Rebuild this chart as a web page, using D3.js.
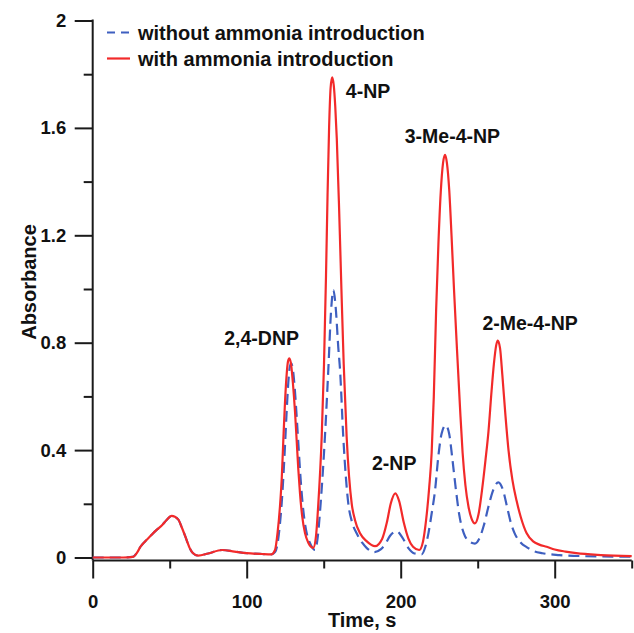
<!DOCTYPE html>
<html>
<head>
<meta charset="utf-8">
<script src="https://cdn.jsdelivr.net/npm/d3@7.9.0/dist/d3.min.js"></script>
<style>
  body { margin: 0; background: #fff; }
  svg text { font-family: "Liberation Sans", Arial, sans-serif; font-weight: bold; fill: #111; }
</style>
</head>
<body>
<div id="chart"></div>
<script>
// time (s), absorbance
const withoutAmmonia = [
  [0, 0], [10, 0], [20, 0], [26, 0.002], [29, 0.02], [31, 0.04], [34, 0.06], [37, 0.077],
  [41, 0.1], [45, 0.12], [48, 0.14], [51.3, 0.155], [55.5, 0.142], [58, 0.11], [61, 0.065],
  [63, 0.035], [65, 0.017], [68.5, 0.007], [75, 0.015], [84, 0.028], [92, 0.022], [100, 0.016],
  [110, 0.013], [116, 0.012], [118.4, 0.02], [120, 0.05], [121.5, 0.12], [122.7, 0.2],
  [123.8, 0.3], [124.9, 0.42], [126, 0.55], [127, 0.65], [128, 0.71], [128.9, 0.723],
  [130, 0.7], [131.2, 0.63], [132.5, 0.52], [133.7, 0.41], [134.8, 0.31], [136, 0.22],
  [137.5, 0.14], [139.2, 0.085], [141, 0.055], [142.8, 0.035], [144.4, 0.028], [146, 0.07],
  [148, 0.2], [150.8, 0.45], [153, 0.7], [154.8, 0.92], [156.3, 0.996], [157.8, 0.93],
  [159.5, 0.78], [160.6, 0.7], [162.7, 0.45], [166, 0.2], [168.5, 0.13], [171.4, 0.09],
  [175, 0.055], [178, 0.035], [183, 0.02], [187, 0.03], [190, 0.05], [193, 0.08],
  [197.4, 0.098], [201, 0.075], [205, 0.035], [209, 0.015], [213.6, 0.012], [216, 0.04],
  [218, 0.09], [220, 0.16], [222.3, 0.25], [224.5, 0.38], [226.5, 0.46], [229.2, 0.493],
  [231.5, 0.46], [233.5, 0.37], [235.9, 0.25], [238, 0.16], [241, 0.09], [244, 0.062],
  [248.2, 0.052], [251, 0.07], [254, 0.12], [257, 0.19], [260, 0.25], [263.4, 0.28],
  [266.5, 0.25], [269, 0.19], [271.5, 0.13], [274, 0.09], [278, 0.055], [282, 0.038],
  [286, 0.025], [292, 0.016], [303, 0.009], [320, 0.005], [350, 0.003]
];

const withAmmonia = [
  [0, 0], [10, 0], [20, 0], [26, 0.002], [29, 0.02], [31, 0.04], [34, 0.06], [37, 0.077],
  [41, 0.1], [45, 0.12], [48, 0.14], [51.3, 0.155], [55.5, 0.142], [58, 0.11], [61, 0.065],
  [63, 0.035], [65, 0.017], [68.5, 0.007], [75, 0.015], [84, 0.028], [92, 0.022], [100, 0.016],
  [110, 0.013], [116, 0.012], [118.4, 0.028], [120, 0.09], [121.6, 0.19], [122.8, 0.3],
  [123.8, 0.44], [124.8, 0.57], [125.8, 0.67], [126.8, 0.73], [127.7, 0.742], [128.8, 0.72],
  [130, 0.65], [131.4, 0.54], [132.5, 0.43], [133.5, 0.33], [134.6, 0.24], [136, 0.155],
  [137.9, 0.09], [140, 0.055], [143.2, 0.036], [145, 0.08], [146.5, 0.2], [148.7, 0.45],
  [150.2, 0.72], [151.5, 1.05], [152.5, 1.35], [153.5, 1.6], [154.5, 1.75], [155.5, 1.788],
  [156.5, 1.76], [157.5, 1.68], [158.5, 1.56], [160, 1.3], [161.5, 1.0], [163, 0.72],
  [164.9, 0.45], [166.5, 0.3], [168.2, 0.2], [170.3, 0.14], [173.6, 0.09], [178, 0.06],
  [183.3, 0.042], [188, 0.07], [191, 0.13], [193.5, 0.2], [196.5, 0.239], [199, 0.21],
  [202, 0.13], [205, 0.07], [208, 0.04], [212, 0.028], [214.5, 0.06], [216.5, 0.14],
  [218.5, 0.26], [220.1, 0.39], [221.5, 0.6], [223, 0.92], [224.5, 1.17], [226, 1.36],
  [227.5, 1.47], [228.8, 1.5], [230, 1.47], [231.5, 1.37], [233, 1.2], [234.6, 1.0],
  [236.5, 0.78], [238.5, 0.56], [240.2, 0.39], [242, 0.27], [244, 0.19], [246, 0.145],
  [248.2, 0.127], [250.5, 0.16], [253, 0.26], [255, 0.36], [257, 0.47], [259, 0.62],
  [260.5, 0.72], [262, 0.79], [263, 0.808], [264.5, 0.78], [266, 0.68], [268, 0.53],
  [270, 0.4], [272.5, 0.29], [275.3, 0.21], [278, 0.15], [281.8, 0.09], [286, 0.06],
  [290, 0.048], [294.8, 0.04], [300, 0.03], [307, 0.022], [314, 0.016], [330, 0.009],
  [350, 0.005]
];

const seriesNames = ['without ammonia introduction', 'with ammonia introduction'];
const xTicks = [0, 100, 200, 300];
const xMinorTicks = [50, 150, 250, 350];
const yTicks = [0, 0.4, 0.8, 1.2, 1.6, 2];
const yMinorTicks = [0.2, 0.6, 1.0, 1.4, 1.8];
const peakNames = ['2,4-DNP', '4-NP', '3-Me-4-NP', '2-NP', '2-Me-4-NP'];

const width = 634;
const height = 633;
const plot = { left: 92.7, right: 631.7, top: 20.5, bottom: 557.5 };
const axisY = 560.5; // x axis sits a little below zero

const svg = d3.select('#chart')
  .append('svg')
  .attr('width', width)
  .attr('height', height);

const x = d3.scaleLinear().domain([0, 350]).range([plot.left, plot.right]);
const y = d3.scaleLinear().domain([0, 2]).range([plot.bottom, plot.top]);

const axisColor = '#1a1a1a';

function styleAxis(g) {
  g.select('.domain').remove();
  g.selectAll('line').attr('stroke', axisColor).attr('stroke-width', 2);
  g.selectAll('text').attr('fill', '#111');
}

// x axis
svg.append('g')
  .attr('transform', `translate(0, ${axisY})`)
  .call(d3.axisBottom(x).tickValues(xTicks).tickSize(18).tickPadding(16).tickFormat(String))
  .call(styleAxis)
  .selectAll('text')
  .style('font-size', '18.5px');

svg.append('g')
  .attr('transform', `translate(0, ${axisY})`)
  .call(d3.axisBottom(x).tickValues(xMinorTicks).tickSize(8).tickFormat(''))
  .call(styleAxis);

// y axis
svg.append('g')
  .attr('transform', `translate(${plot.left}, 0)`)
  .call(d3.axisLeft(y).tickValues(yTicks).tickSize(18).tickPadding(8.5).tickFormat(String))
  .call(styleAxis)
  .selectAll('text')
  .style('font-size', '18.5px');

svg.append('g')
  .attr('transform', `translate(${plot.left}, 0)`)
  .call(d3.axisLeft(y).tickValues(yMinorTicks).tickSize(9).tickFormat(''))
  .call(styleAxis);

// axis lines
svg.append('line')
  .attr('x1', plot.left).attr('x2', plot.right)
  .attr('y1', axisY).attr('y2', axisY)
  .attr('stroke', axisColor).attr('stroke-width', 2);
svg.append('line')
  .attr('x1', plot.left).attr('x2', plot.left)
  .attr('y1', plot.top - 1).attr('y2', axisY)
  .attr('stroke', axisColor).attr('stroke-width', 2);

// axis titles
svg.append('text')
  .attr('x', (plot.left + plot.right) / 2)
  .attr('y', 627)
  .attr('text-anchor', 'middle')
  .style('font-size', '20px')
  .text('Time, s');

svg.append('text')
  .attr('transform', `translate(36, ${282}) rotate(-90)`)
  .attr('text-anchor', 'middle')
  .style('font-size', '20px')
  .text('Absorbance');

// curves
const line = d3.line()
  .x((d) => x(d[0]))
  .y((d) => y(d[1]))
  .curve(d3.curveMonotoneX);

const blue = '#3e5fc0';
const red = '#f22a2a';

svg.append('path')
  .datum(withoutAmmonia)
  .attr('d', line)
  .attr('fill', 'none')
  .attr('stroke', blue)
  .attr('stroke-width', 2.2)
  .attr('stroke-dasharray', '11,6');

svg.append('path')
  .datum(withAmmonia)
  .attr('d', line)
  .attr('fill', 'none')
  .attr('stroke', red)
  .attr('stroke-width', 2.2);

// peak labels (center x, baseline in data units)
const peakSpots = [[109.7, 0.791], [178.8, 1.711], [233.6, 1.542], [195.8, 0.326], [284, 0.847]];
svg.append('g')
  .selectAll('text')
  .data(peakNames)
  .join('text')
  .attr('x', (d, i) => x(peakSpots[i][0]))
  .attr('y', (d, i) => y(peakSpots[i][1]))
  .attr('text-anchor', 'middle')
  .style('font-size', '19.5px')
  .text((d) => d);

// legend
const legend = svg.append('g');
const legendRows = [
  { name: seriesNames[0], color: blue, dash: '8,6', ly: 32.5, ty: 39.5 },
  { name: seriesNames[1], color: red, dash: null, ly: 58.5, ty: 66 },
];
legendRows.forEach((r) => {
  legend.append('line')
    .attr('x1', 107).attr('x2', 130)
    .attr('y1', r.ly).attr('y2', r.ly)
    .attr('stroke', r.color)
    .attr('stroke-width', 2.2)
    .attr('stroke-dasharray', r.dash);
  legend.append('text')
    .attr('x', 138)
    .attr('y', r.ty)
    .style('font-size', '20px')
    .text(r.name);
});
</script>
</body>
</html>
